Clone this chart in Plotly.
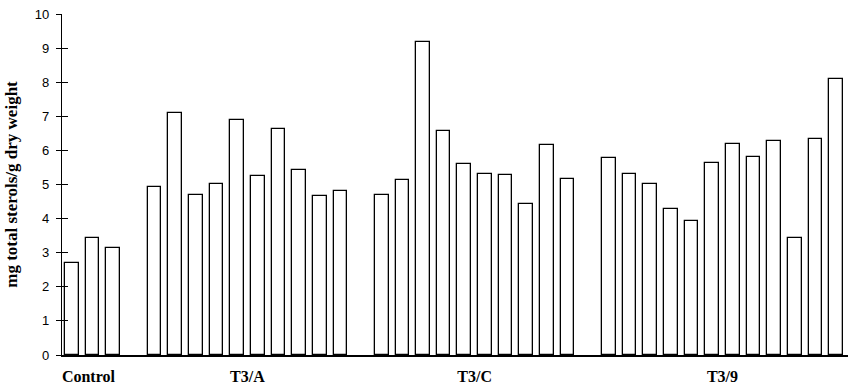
import plotly.graph_objects as go

groups = ["Control", "T3/A", "T3/C", "T3/9"]
control = [2.69, 3.43, 3.13]
t3a = [4.93, 7.10, 4.69, 5.01, 6.88, 5.26, 6.64, 5.44, 4.65, 4.80]
t3c = [4.70, 5.12, 9.17, 6.58, 5.61, 5.31, 5.28, 4.44, 6.17, 5.17]
t39 = [5.78, 5.31, 5.02, 4.28, 3.93, 5.64, 6.20, 5.82, 6.29, 3.43, 6.32, 8.08]
ytick_vals = [0, 1, 2, 3, 4, 5, 6, 7, 8, 9, 10]

series = [control, t3a, t3c, t39]
xs, ys, centers = [], [], []
pos = 0
for vals in series:
    start = pos
    for v in vals:
        xs.append(pos)
        ys.append(v)
        pos += 1
    centers.append((start + pos - 1) / 2)
    pos += 1  # empty slot between groups
centers[0] -= 0.2

fig = go.Figure()
fig.add_trace(go.Bar(
    x=xs, y=ys, width=0.66,
    marker=dict(color="white", line=dict(color="black", width=1.3)),
    showlegend=False, hoverinfo="y",
))
# invisible trace to enable the inside-tick overlay axis
fig.add_trace(go.Scatter(x=[0], y=[0], yaxis="y2", mode="markers",
                         marker=dict(opacity=0), showlegend=False, hoverinfo="skip"))

fig.update_layout(
    width=854, height=388,
    margin=dict(l=62, r=6, t=14, b=33, autoexpand=False),
    paper_bgcolor="white", plot_bgcolor="white",
    bargap=0,
    xaxis=dict(
        range=[-0.48, 37.58], automargin=False,
        tickvals=centers, ticktext=["<b>%s</b>" % g for g in groups],
        tickfont=dict(family="Liberation Serif", size=16, color="black"),
        ticks="", showgrid=False, zeroline=False,
        showline=True, linecolor="black", linewidth=1.5,
        tickangle=0, ticklabelstandoff=6,
    ),
    yaxis=dict(
        range=[0, 10], tickvals=ytick_vals, automargin=False,
        tickfont=dict(family="Liberation Sans", size=13, color="black"),
        ticks="outside", ticklen=5, tickcolor="black", tickwidth=1,
        ticklabelstandoff=4,
        showgrid=False, zeroline=False,
        showline=True, linecolor="black", linewidth=1.2,
        title=dict(text="<b>mg total sterols/g dry weight</b>",
                   font=dict(family="Liberation Serif", size=17, color="black"),
                   standoff=12),
    ),
    yaxis2=dict(
        range=[0, 10], tickvals=ytick_vals, overlaying="y", side="left",
        automargin=False,
        ticks="inside", ticklen=6, tickcolor="black", tickwidth=1,
        showticklabels=False, showgrid=False, zeroline=False, showline=False,
    ),
)

fig.write_html("out.html")
